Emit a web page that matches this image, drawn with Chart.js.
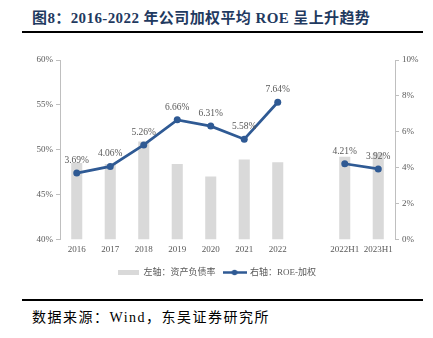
<!DOCTYPE html>
<html>
<head>
<meta charset="utf-8">
<script src="https://cdn.jsdelivr.net/npm/chart.js@4"></script>
<style>
  body { margin: 0; background: #fff; width: 433px; height: 338px; position: relative; overflow: hidden; }
  #title { position: absolute; left: 32px; top: 6px; font: bold 15px "Liberation Serif", "Noto Sans CJK SC"; letter-spacing: 0.4px; color: #1F3A60; white-space: nowrap; }
  .rule { position: absolute; left: 22px; width: 401px; height: 2px; background: #000; }
  #src { position: absolute; left: 32px; top: 306px; font: 14px "Liberation Serif", "Noto Sans CJK SC"; letter-spacing: 1.5px; color: #000; white-space: nowrap; }
  #wrap { position: absolute; left: 0; top: 48px; width: 433px; height: 239px; }
</style>
</head>
<body>
<div id="title">图8：2016-2022 年公司加权平均 ROE 呈上升趋势</div>
<div class="rule" style="top:31px"></div>
<div id="wrap"><canvas id="chart"></canvas></div>
<div class="rule" style="top:299px"></div>
<div id="src">数据来源：Wind，东吴证券研究所</div>
<script>
const categories = ['2016', '2017', '2018', '2019', '2020', '2021', '2022', '', '2022H1', '2023H1'];
const debtRatio = [48.5, 48.4, 50.9, 48.4, 47.0, 48.9, 48.6, null, 49.2, 49.6];
const roe = [3.69, 4.06, 5.26, 6.66, 6.31, 5.58, 7.64, null, 4.21, 3.92];
const seriesNames = ['左轴：资产负债率', '右轴：ROE-加权'];

const BAR = '#D9D9D9';
const LINE = '#2F5A94';
const TEXT = '#595959';
const AXIS = '#BFBFBF';
const FONT = '"Liberation Serif", "Noto Sans CJK SC"';

// legend icons
const barIcon = document.createElement('canvas');
barIcon.width = 21; barIcon.height = 5;
let c = barIcon.getContext('2d');
c.fillStyle = BAR; c.fillRect(0, 0, 21, 5);

const lineIcon = document.createElement('canvas');
lineIcon.width = 24; lineIcon.height = 7;
c = lineIcon.getContext('2d');
c.strokeStyle = LINE; c.lineWidth = 2.5;
c.beginPath(); c.moveTo(0, 3.5); c.lineTo(24, 3.5); c.stroke();
c.fillStyle = LINE; c.beginPath(); c.arc(12, 3.5, 2.8, 0, Math.PI * 2); c.fill();

const pointLabels = {
  id: 'pointLabels',
  afterDatasetsDraw(chart) {
    const ctx = chart.ctx;
    const meta = chart.getDatasetMeta(1);
    ctx.save();
    ctx.font = '9.5px ' + FONT;
    ctx.fillStyle = TEXT;
    ctx.textAlign = 'center';
    ctx.textBaseline = 'middle';
    meta.data.forEach((pt, i) => {
      if (roe[i] == null) return;
      ctx.fillText(roe[i].toFixed(2) + '%', pt.x, pt.y - 12.5);
    });
    ctx.restore();
  }
};

new Chart(document.getElementById('chart'), {
  type: 'bar',
  data: {
    labels: categories,
    datasets: [
      {
        type: 'bar',
        label: seriesNames[0],
        data: debtRatio,
        backgroundColor: BAR,
        yAxisID: 'y',
        barPercentage: 0.33,
        categoryPercentage: 1,
        order: 1
      },
      {
        type: 'line',
        label: seriesNames[1],
        data: roe,
        borderColor: LINE,
        backgroundColor: LINE,
        borderWidth: 2.75,
        pointRadius: 3.5,
        pointBackgroundColor: LINE,
        pointBorderWidth: 0,
        spanGaps: false,
        yAxisID: 'y1',
        order: 0
      }
    ]
  },
  options: {
    responsive: true,
    maintainAspectRatio: false,
    animation: false,
    layout: { padding: { top: 12, left: 0, right: 0, bottom: 0 } },
    scales: {
      x: {
        grid: { display: false, drawTicks: false },
        border: { display: false },
        ticks: { color: TEXT, font: { family: FONT, size: 9 }, padding: 5, autoSkip: false, maxRotation: 0 }
      },
      y: {
        position: 'left',
        min: 40, max: 60,
        afterFit(s) { s.width = 60; },
        grid: { drawOnChartArea: false, drawTicks: true, tickLength: 4, color: AXIS },
        border: { display: true, color: AXIS },
        ticks: { stepSize: 5, color: TEXT, padding: 3, font: { family: FONT, size: 9 }, callback: v => v + '%' }
      },
      y1: {
        position: 'right',
        min: 0, max: 10,
        afterFit(s) { s.width = 38; },
        grid: { drawOnChartArea: false, drawTicks: true, tickLength: 4, color: AXIS },
        border: { display: true, color: AXIS },
        ticks: { stepSize: 2, color: TEXT, padding: 3, font: { family: FONT, size: 9 }, callback: v => v + '%' }
      }
    },
    plugins: {
      tooltip: { enabled: false },
      legend: {
        position: 'bottom',
        labels: {
          usePointStyle: true,
          pointStyleWidth: 22,
          color: TEXT,
          font: { family: FONT, size: 9 },
          padding: 8,
          generateLabels(chart) {
            const items = Chart.defaults.plugins.legend.labels.generateLabels(chart);
            items.sort((a, b) => a.datasetIndex - b.datasetIndex);
            items.forEach(it => { it.pointStyle = it.datasetIndex === 0 ? barIcon : lineIcon; });
            return items;
          }
        }
      }
    }
  },
  plugins: [pointLabels]
});
</script>
</body>
</html>
